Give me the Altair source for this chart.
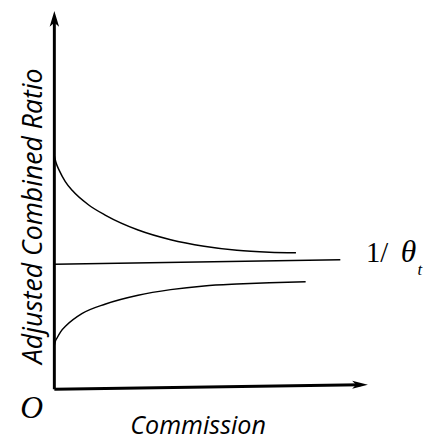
import altair as alt
import pandas as pd

# Curves (x: commission units, y: ratio units)
upper_x = [0.0, 0.05, 0.16, 0.35, 0.57, 1.10, 1.64, 2.68, 3.72, 4.79, 5.84, 6.88, 7.73]
upper_y = [7.42, 7.22, 6.95, 6.60, 6.32, 5.85, 5.52, 5.05, 4.74, 4.53, 4.40, 4.34, 4.32]

lower_x = [0.0, 0.03, 0.09, 0.20, 0.38, 0.88, 1.64, 2.68, 3.72, 4.79, 5.84, 6.88, 8.04]
lower_y = [1.36, 1.48, 1.60, 1.79, 1.99, 2.37, 2.68, 2.96, 3.14, 3.26, 3.32, 3.36, 3.39]

level_x = [0.0, 9.15]
level_y = [3.95, 4.10]

# axes (drawn as lines with arrow heads)
yaxis_x = [0.0, 0.0]
yaxis_y = [-0.05, 11.75]
xaxis_x = [0.0, 9.8]
xaxis_y = [-0.05, 0.095]

arrow_x = [0.0, 9.78]
arrow_y = [11.81, 0.095]

XDOM = [-1.483, 12.019]
YDOM = [-1.610, 12.062]

xs = alt.Scale(domain=XDOM, nice=False, zero=False)
ys = alt.Scale(domain=YDOM, nice=False, zero=False)


def curve_df(xv, yv, name):
    return pd.DataFrame({"x": xv, "y": yv, "s": name})


curves = pd.concat([
    curve_df(upper_x, upper_y, "upper"),
    curve_df(lower_x, lower_y, "lower"),
    curve_df(level_x, level_y, "level"),
])

axes = pd.concat([
    curve_df(yaxis_x, yaxis_y, "yaxis"),
    curve_df(xaxis_x, xaxis_y, "xaxis"),
])

X = alt.X("x:Q", scale=xs, axis=None)
Y = alt.Y("y:Q", scale=ys, axis=None)

curve_layer = alt.Chart(curves).mark_line(
    color="black", strokeWidth=1.5, interpolate="monotone"
).encode(x=X, y=Y, detail="s:N")

axis_layer = alt.Chart(axes).mark_line(
    color="black", strokeWidth=3
).encode(x=X, y=Y, detail="s:N")

up_arrow = alt.Chart(pd.DataFrame({"x": [arrow_x[0]], "y": [arrow_y[0]]})).mark_point(
    shape="M0,-1 L0.6,1 L0,0.5 L-0.6,1 Z", filled=True, color="black",
    opacity=1, size=256, strokeWidth=0
).encode(x=X, y=Y)

right_arrow = alt.Chart(pd.DataFrame({"x": [arrow_x[1]], "y": [arrow_y[1]]})).mark_point(
    shape="M1,0 L-1,-0.5 L-0.5,0 L-1,0.5 Z", filled=True, color="black",
    opacity=1, size=256, strokeWidth=0
).encode(x=X, y=Y)


def label(txt, x, y, **kw):
    return alt.Chart(pd.DataFrame({"x": [x], "y": [y], "t": [txt]})).mark_text(
        color="black", baseline="alphabetic", **kw
    ).encode(x=X, y=Y, text="t:N")


one_over = label("1/", 9.97, 4.01, font="Liberation Serif", fontSize=29, align="left")
theta = label("θ", 11.08, 4.01, font="Liberation Serif", fontSize=32,
              fontStyle="italic", align="left")
sub_t = label("t", 11.62, 3.60, font="Liberation Serif", fontSize=17,
              fontStyle="italic", align="left")
origin = label("O", -0.73, -0.97, font="Liberation Serif", fontSize=32,
               fontStyle="italic", align="center")
xtitle = label("Commission", 4.6, -1.49, font="Open Sans", fontSize=25.5,
               fontStyle="italic", align="center")
ytitle = label("Adjusted Combined Ratio", -0.41, 5.49, font="Open Sans",
               fontSize=27, fontStyle="italic", align="center", angle=270)

chart = alt.layer(
    curve_layer, axis_layer, up_arrow, right_arrow,
    one_over, theta, sub_t, origin, xtitle, ytitle
).properties(
    width=428, height=433,
    autosize=alt.AutoSizeParams(type="none"),
    padding=0,
    background="white",
).configure_view(stroke=None)

chart.save("out.html", embed_options={"renderer": "svg", "actions": False})
